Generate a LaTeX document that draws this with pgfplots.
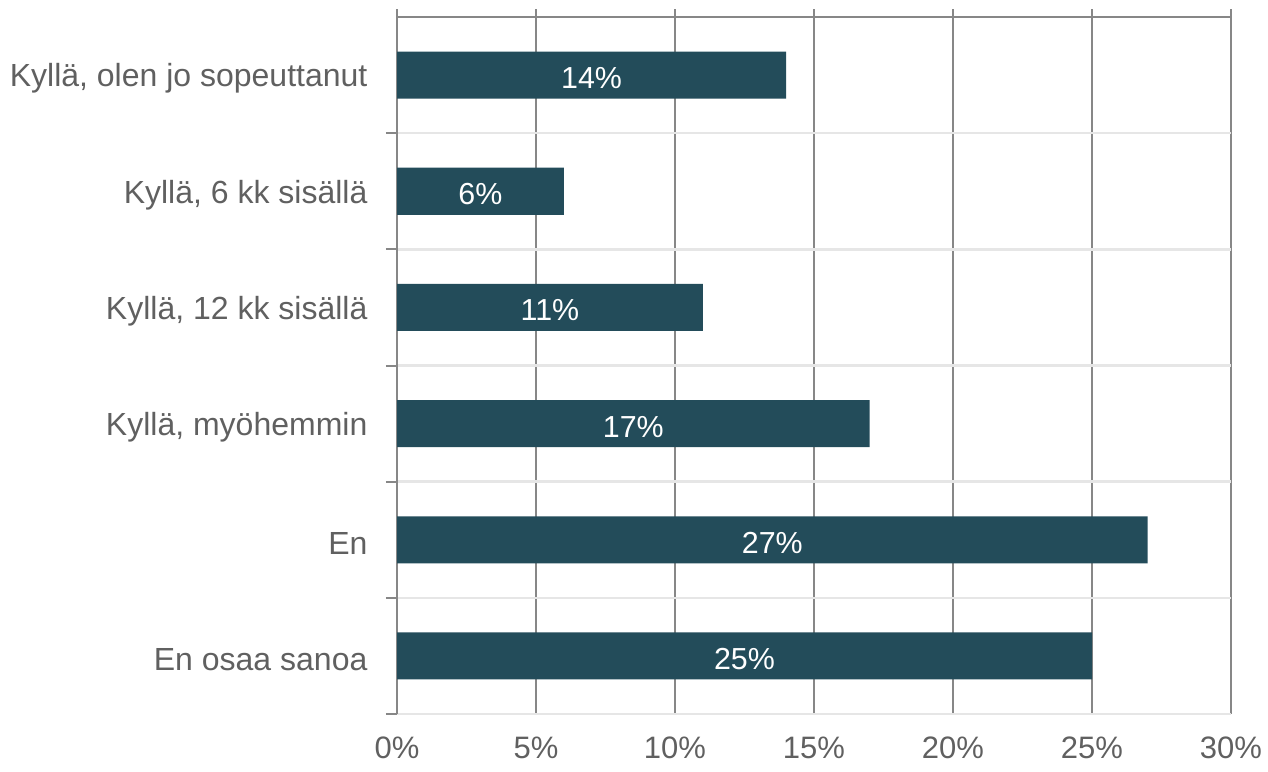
\documentclass[border=0pt]{standalone}
\usepackage{pgfplots}
\pgfplotsset{compat=1.18}
\usepackage{pgfplotstable}
\usepackage{fontspec}
\setmainfont{Liberation Sans}
\definecolor{barcol}{HTML}{234C5A}
\definecolor{txtgray}{HTML}{606060}
\definecolor{axgray}{HTML}{878787}
\definecolor{lightgrid}{HTML}{E6E6E6}
\pgfplotstableread{
y v
5 14
4 6
3 11
2 17
1 27
0 25
}\data
\begin{document}
\begin{tikzpicture}
\path[use as bounding box] (0,0) rectangle (634pt,385.5pt);
\begin{axis}[
  at={(198.5pt,28.5pt)}, anchor=south west,
  scale only axis,
  width=417pt, height=352.5pt,
  xbar, bar width=23.5pt, bar shift=0pt,
  xmin=0, xmax=30,
  ymin=-0.5, ymax=5.569,
  axis x line*=bottom, axis y line*=left,
  x axis line style={lightgrid, line width=1.2pt},
  y axis line style={axgray, line width=1pt},
  xtick={0,5,...,30},
  xticklabels={0\%,5\%,10\%,15\%,20\%,25\%,30\%},
  xmajorgrids,
  major grid style={axgray, line width=1pt},
  major x tick style={draw=none},
  ytick={0,...,5},
  yticklabels={En osaa sanoa,En,{Kyllä, myöhemmin},{Kyllä, 12 kk sisällä},{Kyllä, 6 kk sisällä},{Kyllä, olen jo sopeuttanut}},
  major y tick style={draw=none},
  minor ytick={-0.5,0.5,...,4.5},
  yminorgrids,
  minor grid style={lightgrid, line width=1.2pt},
  minor y tick style={axgray, line width=1pt},
  minor tick length=5.5pt,
  tick align=outside,
  extra y ticks={5.5},
  extra y tick labels={},
  extra y tick style={grid=major, major grid style={axgray, line width=1pt}, major tick length=5.5pt, tick style={axgray, line width=1pt}},
  xticklabel style={font=\fontsize{15.5}{18}\selectfont, text=txtgray, yshift=-3.5pt},
  yticklabel style={font=\fontsize{16}{19}\selectfont, text=txtgray, xshift=-7pt, yshift=-1.8pt},
  /pgf/number format/assume math mode=true,
  clip=false,
]
\addplot[fill=barcol, draw=none] table[x=v, y=y]{\data};
\addplot[draw=none, fill=none, mark=none, nodes near coords={\pgfmathprintnumber{\pgfplotspointmeta}\%},
  point meta=explicit,
  every node near coord/.style={anchor=center, yshift=-1.5pt, text=white, font=\fontsize{15.2}{18}\selectfont}]
  table[x expr=\thisrow{v}/2, y=y, meta=v]{\data};
\end{axis}
\end{tikzpicture}
\end{document}
